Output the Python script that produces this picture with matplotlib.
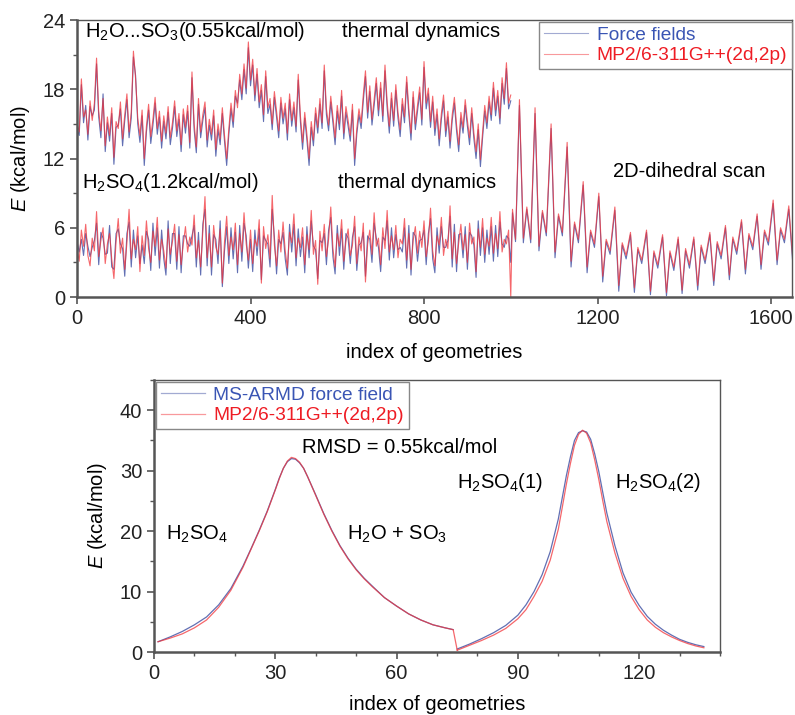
import numpy as np
import matplotlib
matplotlib.use("Agg")
import matplotlib.pyplot as plt
from matplotlib.ticker import MultipleLocator

plt.rcParams['font.family'] = ['Liberation Sans', 'DejaVu Sans']
plt.rcParams['mathtext.fontset'] = 'custom'
plt.rcParams['mathtext.rm'] = 'Liberation Sans'
plt.rcParams['mathtext.it'] = 'Liberation Sans:italic'
plt.rcParams['font.size'] = 14.5

# ---- top panel: thermal dynamics (sampled every 5 geometries) ----
md_idx = np.arange(0, 1001, 5)

h2o_so3_mp2 = [
    15.0, 14.3, 18.9, 15.6, 16.2, 14.1, 17.0, 15.3, 16.8, 20.7,
    16.1, 14.4, 17.2, 13.1, 15.6, 14.0, 16.4, 12.1, 15.2, 14.6,
    16.9, 13.7, 15.8, 17.6, 14.3, 16.0, 21.3, 18.9, 15.5, 14.0,
    16.2, 12.0, 14.8, 16.7, 13.9, 15.4, 17.3, 14.6, 16.1, 13.5,
    15.7, 14.2, 16.5, 13.8, 15.1, 17.0, 14.4, 15.9, 13.2, 16.3,
    14.7, 16.6, 13.4, 19.5, 15.0, 13.0, 17.2, 14.3, 15.8, 16.9,
    13.6, 15.4, 14.1, 16.2, 12.8, 15.0, 13.7, 16.4, 14.0, 12.0,
    14.6, 16.8, 15.2, 17.9, 16.4, 19.3, 17.6, 20.2, 18.1, 22.1,
    18.8, 20.6, 17.5, 19.8, 16.9, 18.4, 15.8, 19.6, 16.4, 17.2,
    15.0, 17.8, 16.1, 14.4, 17.3, 15.5, 16.8, 14.2, 17.6, 15.3,
    16.9, 14.8, 19.3, 15.7, 13.4, 16.0, 14.1, 12.0, 15.2, 13.6,
    16.4, 14.7, 17.2, 15.1, 20.1, 16.3, 14.9, 17.4, 15.6, 13.8,
    16.6, 15.0, 17.9, 14.2, 16.5, 15.3, 14.0, 16.7, 12.0, 14.6,
    16.3, 15.1, 17.5, 19.6, 16.0, 18.3, 15.4, 17.1, 19.0, 16.2,
    18.6, 15.7, 20.1, 16.9, 14.8, 17.7, 15.3, 18.4, 16.0, 14.5,
    17.2, 15.6, 19.1, 16.3, 14.2, 17.8, 15.0, 16.6, 18.2, 15.4,
    20.4, 16.8, 18.1, 15.2, 17.4, 14.6, 16.3, 13.7, 15.9, 17.5,
    14.4, 16.1, 13.5, 15.8, 17.3, 14.9, 13.2, 16.0, 14.7, 17.1,
    15.3, 13.8, 16.4, 14.2, 12.6, 15.0, 11.9, 14.3, 16.6, 15.1,
    17.4, 15.8, 18.6, 16.2, 17.9, 15.5, 19.0, 17.2, 20.3, 16.8,
    17.5]
h2o_so3_ff = [
    14.5, 14.0, 18.4, 15.1, 16.6, 13.6, 16.5, 15.7, 16.2, 20.2,
    15.6, 13.8, 17.6, 12.6, 15.1, 13.5, 15.9, 11.5, 14.7, 14.9,
    16.3, 13.1, 15.3, 17.1, 13.8, 15.5, 20.8, 19.2, 15.0, 13.4,
    15.7, 11.4, 14.3, 16.2, 13.3, 14.9, 16.8, 14.1, 15.6, 12.9,
    15.2, 13.7, 16.0, 13.2, 14.6, 16.5, 13.9, 15.4, 12.6, 15.8,
    14.2, 16.1, 12.9, 19.0, 14.5, 12.5, 16.7, 13.8, 15.3, 16.4,
    13.0, 14.9, 13.6, 15.7, 12.2, 14.5, 13.2, 15.9, 13.5, 11.4,
    14.1, 16.3, 14.7, 17.4, 16.8, 18.8, 17.1, 19.7, 17.6, 21.6,
    18.3, 20.1, 17.0, 19.3, 16.4, 17.9, 15.2, 19.1, 15.9, 16.7,
    14.5, 17.3, 15.6, 13.8, 16.8, 15.0, 16.3, 13.6, 17.1, 14.8,
    16.4, 14.3, 18.8, 15.2, 12.8, 15.5, 13.6, 11.4, 14.7, 13.1,
    15.9, 14.2, 16.7, 14.6, 19.6, 15.8, 14.4, 16.9, 15.1, 13.2,
    16.1, 14.5, 17.4, 13.7, 16.0, 14.8, 13.5, 16.2, 11.4, 14.1,
    15.8, 14.6, 17.0, 19.1, 15.5, 17.8, 14.9, 16.6, 18.5, 15.7,
    18.1, 15.2, 19.6, 16.4, 14.2, 17.2, 14.8, 17.9, 15.5, 13.9,
    16.7, 15.1, 18.6, 15.8, 13.6, 17.3, 14.5, 16.1, 17.7, 14.9,
    19.9, 16.3, 17.6, 14.7, 16.9, 14.0, 15.8, 13.1, 15.4, 17.0,
    13.9, 15.6, 12.9, 15.3, 16.8, 14.4, 12.6, 15.5, 14.2, 16.6,
    14.8, 13.2, 15.9, 13.7, 12.0, 14.5, 11.3, 13.8, 16.1, 14.6,
    16.9, 15.3, 18.1, 15.7, 17.4, 15.0, 18.5, 16.7, 19.8, 16.3,
    17.0]

h2so4_mp2 = [
    4.2, 3.1, 5.8, 4.4, 6.3, 3.6, 2.7, 5.1, 4.0, 7.4,
    3.5, 4.9, 6.0, 2.9, 4.6, 5.5, 3.3, 1.6, 4.8, 6.8,
    3.8, 5.1, 2.4, 4.7, 7.6, 3.3, 5.0, 4.1, 6.1, 2.2,
    5.3, 3.6, 6.6, 4.2, 3.0, 5.7, 4.4, 6.9, 3.2, 5.0,
    4.0, 2.5, 5.9, 3.7, 4.8, 6.3, 3.1, 5.4, 2.8, 4.6,
    6.1, 3.9, 5.2, 4.5, 7.1, 3.4, 4.9, 2.6, 5.6, 8.7,
    3.4, 5.5, 2.6, 6.2, 4.3, 3.7, 5.9, 1.2, 4.8, 7.0,
    3.6, 5.2, 4.1, 6.4, 2.8, 5.5, 3.9, 7.3, 4.6, 3.2,
    5.8, 2.9, 5.0, 4.4, 6.7, 1.2, 6.1, 4.2, 5.4, 3.3,
    8.8, 4.5, 2.7, 5.8, 3.9, 6.5, 4.0, 2.5, 5.6, 4.7,
    7.2, 3.4, 5.1, 4.3, 6.0, 2.8, 5.4, 4.1, 7.5, 3.7,
    4.9, 1.1, 5.7, 4.0, 6.3, 3.5, 5.0, 7.8, 4.2, 2.6,
    5.5, 4.4, 6.7, 3.1, 4.8, 5.9, 3.6, 4.5, 7.0, 2.9,
    5.2, 4.0, 6.4, 1.3, 4.6, 5.8, 3.7, 7.3, 4.4, 5.1,
    2.8, 6.0, 4.2, 7.5, 3.9, 5.3, 4.1, 6.2, 3.4, 5.0,
    4.6, 6.8, 3.2, 5.5, 2.4, 4.9, 6.1, 3.8, 5.7, 4.3,
    6.6, 3.5, 4.8, 7.7, 4.0, 2.7, 5.3, 4.5, 6.9, 3.6,
    5.0, 4.2, 7.9, 3.3, 5.6, 2.9, 4.7, 6.3, 4.1, 5.4,
    3.0, 6.4, 4.6, 5.2, 2.2, 5.9, 4.3, 6.8, 3.7, 5.1,
    4.4, 6.9, 3.8, 5.5, 4.2, 7.4, 3.9, 5.0, 4.6, 5.8,
    0.0]
h2so4_ff = [
    4.8, 3.9, 5.0, 3.6, 5.5, 4.4, 3.5, 4.3, 4.9, 6.4,
    2.8, 5.6, 5.1, 3.7, 3.8, 6.2, 2.6, 2.4, 5.5, 5.9,
    4.6, 4.2, 1.8, 5.5, 6.5, 2.6, 5.8, 3.4, 5.3, 2.9,
    4.5, 2.9, 5.7, 5.0, 2.3, 6.4, 3.6, 6.0, 2.5, 5.8,
    3.3, 1.9, 6.6, 2.9, 5.5, 5.5, 2.4, 6.1, 2.1, 5.3,
    5.3, 4.6, 4.4, 5.3, 6.2, 2.6, 5.6, 1.9, 6.3, 7.6,
    2.7, 6.2, 1.9, 5.4, 5.0, 2.9, 6.6, 0.9, 4.0, 6.1,
    2.9, 6.0, 3.3, 5.6, 2.1, 6.2, 3.1, 6.4, 5.3, 2.5,
    5.0, 2.2, 5.8, 3.6, 5.9, 1.5, 5.3, 4.9, 4.6, 2.6,
    7.6, 5.2, 2.0, 5.0, 4.6, 5.6, 3.3, 1.9, 6.3, 3.9,
    6.3, 2.7, 5.9, 3.5, 5.2, 2.1, 6.1, 3.4, 6.6, 4.4,
    4.1, 1.6, 4.9, 4.7, 5.5, 2.8, 5.8, 6.9, 3.5, 2.0,
    6.2, 3.6, 5.9, 2.4, 5.5, 5.1, 2.9, 5.2, 6.1, 2.3,
    4.5, 4.7, 5.6, 1.8, 5.3, 5.0, 3.0, 6.4, 5.1, 4.3,
    2.2, 5.2, 4.9, 6.6, 3.2, 6.0, 3.4, 5.4, 4.1, 4.3,
    3.9, 6.0, 2.5, 6.2, 1.9, 5.6, 5.3, 3.1, 4.9, 5.0,
    5.8, 2.8, 5.5, 6.8, 3.3, 2.1, 6.0, 3.8, 6.1, 4.3,
    4.3, 4.9, 7.0, 2.6, 6.3, 2.2, 5.4, 5.5, 3.4, 6.1,
    2.4, 5.6, 5.3, 4.5, 1.7, 6.6, 3.6, 6.0, 3.0, 5.8,
    3.7, 6.1, 3.1, 6.2, 3.5, 6.5, 4.6, 4.3, 5.3, 5.1,
    3.0]

# ---- 2D-dihedral scan: peaks, valleys and shoulders ----
scan_idx = [1004, 1011,
            1020, 1029, 1037, 1046,
            1056, 1065, 1073, 1082,
            1093, 1102, 1110, 1119,
            1130, 1139, 1147, 1156,
            1167, 1176, 1184, 1193,
            1203, 1212, 1220, 1229,
            1240, 1249, 1257, 1266,
            1276, 1285, 1293, 1302,
            1313, 1322, 1330, 1339,
            1350, 1359, 1367, 1376,
            1386, 1395, 1403, 1412,
            1422, 1431, 1439, 1448,
            1459, 1468, 1476, 1485,
            1495, 1504, 1512, 1521,
            1532, 1541, 1549, 1558,
            1568, 1577, 1585, 1594,
            1605, 1614, 1622, 1631,
            1641, 1650]
scan_mp2 = [7.6, 5.0,
            17.1, 5.1, 7.8, 5.0,
            16.4, 4.4, 7.5, 5.6,
            15.0, 3.9, 7.2, 5.6,
            13.4, 3.1, 6.5, 5.0,
            10.0, 2.6, 5.8, 4.6,
            9.0, 1.8, 5.0, 4.0,
            7.8, 1.0, 4.7, 3.6,
            5.6, 0.8, 4.3, 3.2,
            5.8, 0.5, 4.0, 2.8,
            5.4, 0.4, 4.0, 2.6,
            5.2, 0.6, 4.2, 2.8,
            5.2, 1.0, 4.5, 3.2,
            5.6, 1.4, 4.8, 3.6,
            6.2, 1.9, 5.2, 4.0,
            6.7, 2.4, 5.5, 4.4,
            7.2, 2.8, 5.8, 4.8,
            8.4, 3.2, 6.0, 5.0,
            7.9, 3.4]
scan_ff = [7.3, 4.8,
           16.6, 4.7, 7.6, 4.7,
           15.9, 4.0, 7.3, 5.3,
           14.6, 3.4, 7.0, 5.3,
           13.0, 2.6, 6.3, 4.7,
           9.7, 2.1, 5.6, 4.3,
           8.7, 1.3, 4.8, 3.7,
           7.5, 0.5, 4.5, 3.3,
           5.4, 0.4, 4.1, 2.9,
           5.6, 0.2, 3.8, 2.5,
           5.2, 0.1, 3.8, 2.3,
           5.0, 0.3, 4.0, 2.5,
           5.0, 0.6, 4.3, 2.9,
           5.4, 1.0, 4.6, 3.3,
           6.0, 1.5, 5.0, 3.7,
           6.5, 2.0, 5.3, 4.1,
           7.0, 2.4, 5.6, 4.5,
           8.1, 2.8, 5.8, 4.7,
           7.6, 3.0]

# ---- bottom panel: reaction paths ----
path1_idx = [1, 4, 7, 10, 13, 16, 19, 22, 24, 26, 28, 30, 31, 32, 33, 34, 35,
             36, 37, 38, 40, 42, 44, 46, 48, 50, 52, 54, 57, 60, 63, 66, 69,
             72, 74]
path1_mp2 = [1.7, 2.3, 3.0, 4.0, 5.3, 7.4, 10.2, 14.0, 17.0, 20.0, 23.2,
             26.8, 28.7, 30.4, 31.6, 32.2, 32.0, 31.4, 30.4, 29.0, 25.9,
             22.8, 20.0, 17.5, 15.4, 13.6, 12.1, 10.8, 9.0, 7.6, 6.3, 5.3,
             4.5, 4.0, 3.7]
path1_ff = [1.7, 2.5, 3.4, 4.5, 5.8, 7.8, 10.5, 14.2, 17.1, 20.1, 23.3,
            26.9, 28.8, 30.4, 31.5, 32.0, 31.9, 31.3, 30.4, 29.0, 26.0,
            22.9, 20.1, 17.6, 15.5, 13.7, 12.2, 10.9, 9.0, 7.6, 6.3, 5.3,
            4.5, 4.0, 3.7]
path2_idx = [75, 78, 81, 84, 87, 90, 92, 94, 96, 98, 100, 101, 102, 103, 104,
             105, 106, 107, 108, 109, 110, 111, 112, 114, 116, 118, 120, 122,
             124, 126, 128, 130, 132, 134, 136]
path2_mp2 = [0.3, 1.1, 1.9, 2.8, 3.9, 5.5, 7.0, 9.2, 11.7, 15.2, 20.3, 24.0,
             27.8, 31.2, 34.2, 36.0, 36.7, 36.2, 34.6, 31.8, 28.6, 25.0, 21.6,
             16.4, 12.2, 9.2, 7.0, 5.3, 4.1, 3.2, 2.5, 1.9, 1.4, 1.0, 0.7]
path2_ff = [0.5, 1.3, 2.2, 3.2, 4.4, 6.1, 7.8, 10.0, 12.8, 16.6, 22.0, 25.6,
            29.2, 32.3, 35.0, 36.3, 36.6, 36.4, 35.2, 32.8, 29.9, 26.4, 23.0,
            17.6, 13.1, 9.9, 7.7, 5.9, 4.6, 3.6, 2.8, 2.1, 1.6, 1.2, 0.9]

blue = '#4656a6'
red = '#f2343a'
txt_blue = '#3a55b4'
txt_red = '#ee1c24'
spine_c = '#555555'

fig = plt.figure(figsize=(7.95, 7.15), dpi=100)
ax1 = fig.add_axes([0.0969, 0.5846, 0.8991, 0.3874])
ax2 = fig.add_axes([0.1937, 0.0881, 0.7120, 0.3804])

# top panel
ax1.plot(md_idx, h2o_so3_ff, color=blue, lw=0.8, alpha=0.85)
ax1.plot(np.concatenate([md_idx, scan_idx]), h2so4_ff + scan_ff, color=blue, lw=0.8,
         alpha=0.85, label='Force fields')
ax1.plot(md_idx, h2o_so3_mp2, color=red, lw=0.8, alpha=0.75)
ax1.plot(np.concatenate([md_idx, scan_idx]), h2so4_mp2 + scan_mp2, color=red, lw=0.8,
         alpha=0.75, label='MP2/6-311G++(2d,2p)')
ax1.set_xlim(0, 1648)
ax1.set_ylim(0, 24)
ax1.set_xticks([0, 400, 800, 1200, 1600])
ax1.set_yticks([0, 6, 12, 18, 24])
ax1.yaxis.set_minor_locator(MultipleLocator(3))
ax1.set_xlabel('index of geometries', labelpad=11)
ax1.set_ylabel(r'$E$ (kcal/mol)', labelpad=8)
ax1.text(18, 23.0, r'H$_2$O...SO$_3$(0.55kcal/mol)', va='center')
ax1.text(611, 23.0, 'thermal dynamics', va='center')
ax1.text(11, 9.9, r'H$_2$SO$_4$(1.2kcal/mol)', va='center')
ax1.text(602, 9.9, 'thermal dynamics', va='center')
ax1.text(1236, 10.9, '2D-dihedral scan', va='center')
leg1 = ax1.legend(loc='upper right', bbox_to_anchor=(1.003, 1.0), fancybox=False,
                  edgecolor='#888888', framealpha=1, handlelength=2.3,
                  borderpad=0.25, labelspacing=0.15, handletextpad=0.45,
                  borderaxespad=0.1, fontsize=13.8)

# bottom panel
ax2.plot(path1_idx, path1_ff, color=blue, lw=0.9, alpha=0.85, label='MS-ARMD force field')
ax2.plot(path2_idx, path2_ff, color=blue, lw=0.9, alpha=0.85)
ax2.plot(path1_idx + path2_idx[:1], path1_mp2 + path2_mp2[:1], color=red, lw=0.9,
         alpha=0.75, label='MP2/6-311G++(2d,2p)')
ax2.plot(path2_idx, path2_mp2, color=red, lw=0.9, alpha=0.75)
ax2.set_xlim(0, 140)
ax2.set_ylim(0, 45)
ax2.set_xticks([0, 30, 60, 90, 120])
ax2.set_yticks([0, 10, 20, 30, 40])
ax2.xaxis.set_minor_locator(MultipleLocator(10))
ax2.yaxis.set_minor_locator(MultipleLocator(5))
ax2.set_xlabel('index of geometries', labelpad=8.5)
ax2.set_ylabel(r'$E$ (kcal/mol)', labelpad=8)
ax2.text(36.6, 33.8, 'RMSD = 0.55kcal/mol', va='center')
ax2.text(3.0, 19.5, r'H$_2$SO$_4$', va='center')
ax2.text(47.8, 19.5, r'H$_2$O + SO$_3$', va='center')
ax2.text(75.0, 28.0, r'H$_2$SO$_4$(1)', va='center')
ax2.text(114.1, 28.0, r'H$_2$SO$_4$(2)', va='center')
leg2 = ax2.legend(loc='upper left', bbox_to_anchor=(0.0, 1.0), fancybox=False,
                  edgecolor='#888888', framealpha=1, handlelength=2.3,
                  borderpad=0.25, labelspacing=0.15, handletextpad=0.45,
                  borderaxespad=0.1, fontsize=13.8)

for leg in (leg1, leg2):
    leg.get_frame().set_linewidth(1.0)
    for t, c in zip(leg.get_texts(), [txt_blue, txt_red]):
        t.set_color(c)
    for h in leg.get_lines():
        h.set_alpha(0.5)

for ax in (ax1, ax2):
    for s in ax.spines.values():
        s.set_color(spine_c)
        s.set_linewidth(1.0)
    ax.spines['left'].set_linewidth(1.8)
    ax.spines['bottom'].set_linewidth(1.8)
    ax.tick_params(which='major', direction='out', length=5, width=1.2,
                   color=spine_c, labelcolor='#222222', labelsize=14.5)
    ax.tick_params(which='minor', direction='out', length=3, width=1.0, color=spine_c)

fig.savefig('out.png', dpi=100)
